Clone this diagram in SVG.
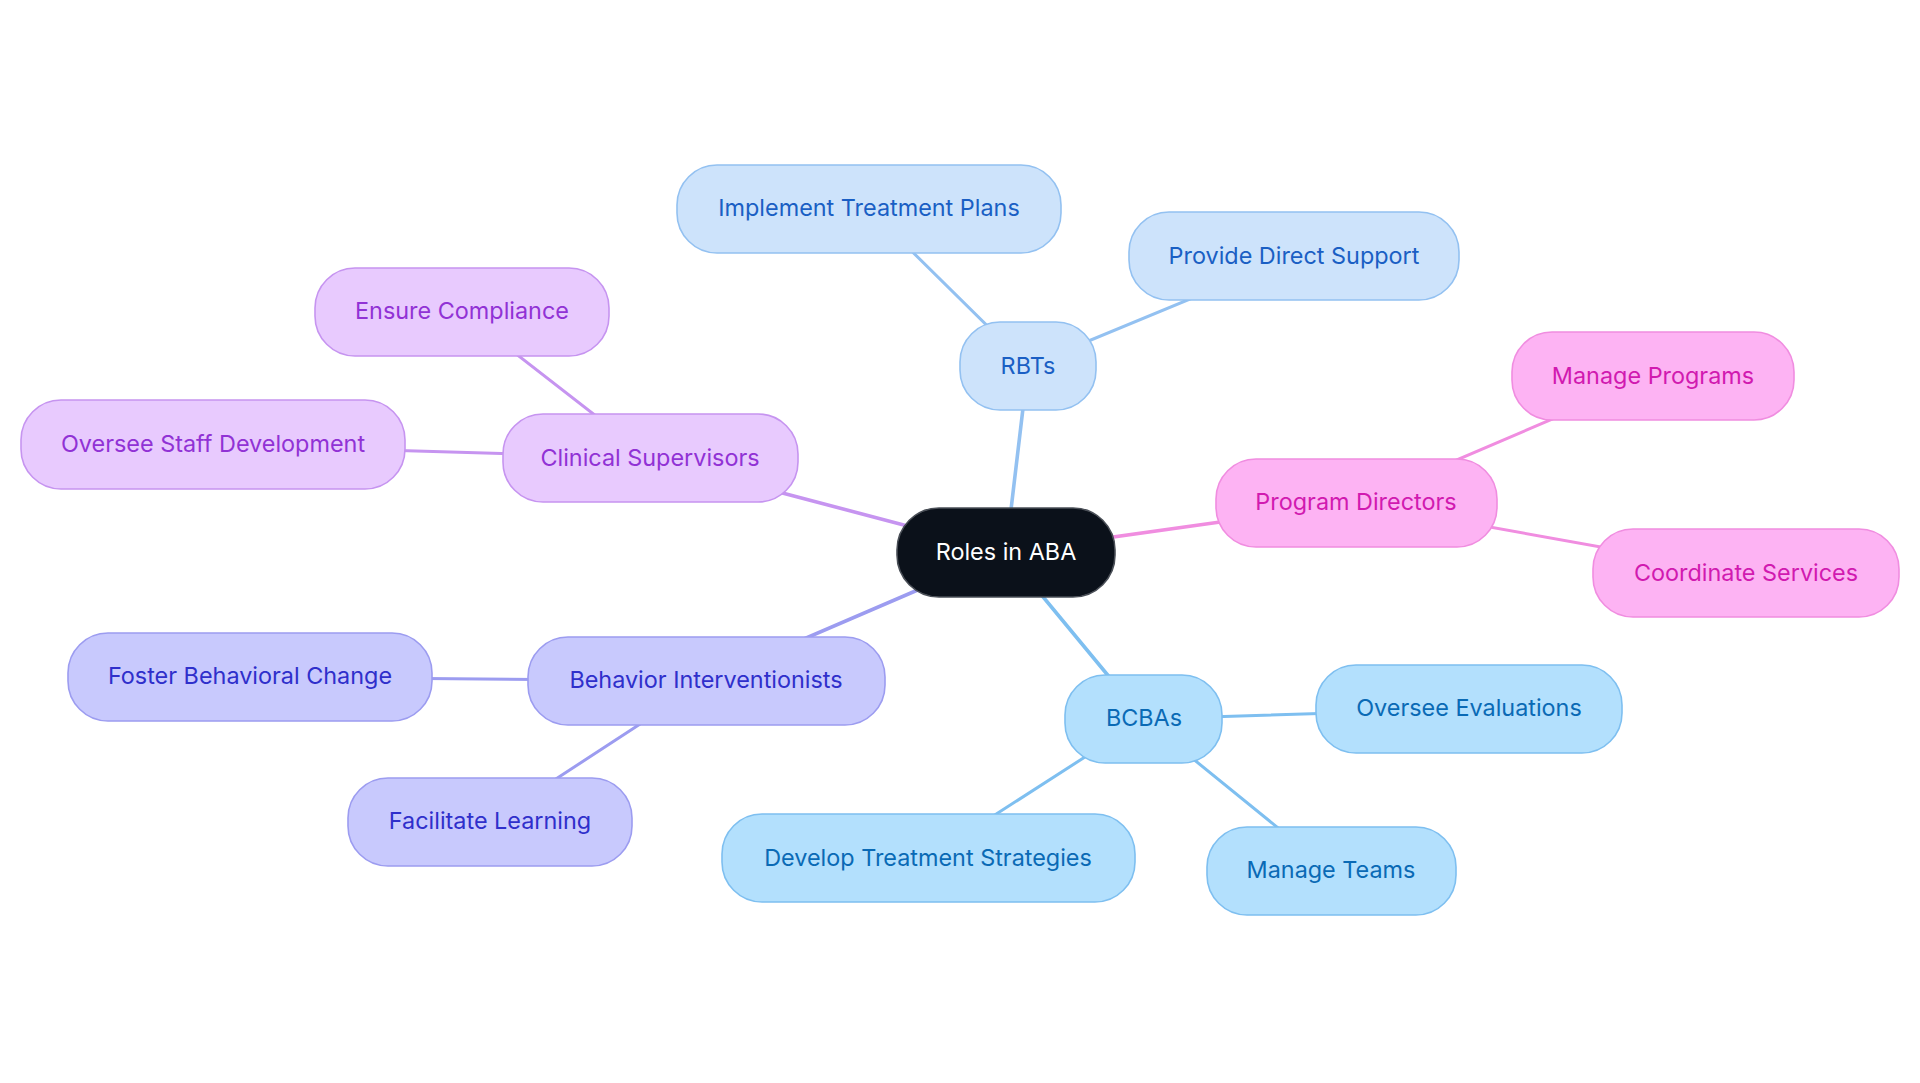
<svg xmlns="http://www.w3.org/2000/svg" width="1920" height="1083" viewBox="0 0 1920 1083">
<style>
text{font-family:Inter,"Noto Sans",sans-serif;font-size:23.4px;text-anchor:middle;dominant-baseline:central}
.n rect{stroke-width:1.6}
.root rect{fill:#0b111a;stroke:#4a4f57}
.root text{fill:#ffffff}
.rbt rect{fill:#cde3fb;stroke:#93c1f1}
.rbt text{fill:#1a5fc4}
.bcba rect{fill:#b3e0fd;stroke:#7ebff0}
.bcba text{fill:#0a6ab5}
.cs rect{fill:#e8cafe;stroke:#c694f0}
.cs text{fill:#9132d5}
.pd rect{fill:#fdb3f3;stroke:#f08de0}
.pd text{fill:#d11ab0}
.bi rect{fill:#c8c9fd;stroke:#9c9cf0}
.bi text{fill:#2f2fcb}
.e{fill:none;stroke-linecap:round}
.d1{stroke-width:3.6}
.d2{stroke-width:3}
.erbt{stroke:#93c1f1}
.ebcba{stroke:#7ebff0}
.ecs{stroke:#c694f0}
.epd{stroke:#f08de0}
.ebi{stroke:#9c9cf0}
</style>
<rect width="1920" height="1083" fill="#ffffff"/>
<g id="connectors">
<line class="e d1 erbt" x1="1006" y1="552" x2="1028" y2="366"/>
<line class="e d2 erbt" x1="1028" y1="366" x2="869" y2="209"/>
<line class="e d2 erbt" x1="1028" y1="366" x2="1294" y2="256"/>
<line class="e d1 epd" x1="1006" y1="552" x2="1356" y2="503"/>
<line class="e d2 epd" x1="1356" y1="503" x2="1653" y2="376"/>
<line class="e d2 epd" x1="1356" y1="503" x2="1746" y2="573"/>
<line class="e d1 ebcba" x1="1006" y1="552" x2="1144" y2="719"/>
<line class="e d2 ebcba" x1="1144" y1="719" x2="1469" y2="709"/>
<line class="e d2 ebcba" x1="1144" y1="719" x2="1331" y2="871"/>
<line class="e d2 ebcba" x1="1144" y1="719" x2="928" y2="858"/>
<line class="e d1 ebi" x1="1006" y1="552" x2="706" y2="681"/>
<line class="e d2 ebi" x1="706" y1="681" x2="250" y2="677"/>
<line class="e d2 ebi" x1="706" y1="681" x2="490" y2="822"/>
<line class="e d1 ecs" x1="1006" y1="552" x2="650" y2="458"/>
<line class="e d2 ecs" x1="650" y1="458" x2="462" y2="312"/>
<line class="e d2 ecs" x1="650" y1="458" x2="213" y2="445"/>
</g>
<g id="node-root" class="n root"><rect x="897" y="508" width="218" height="89" rx="42"/><text x="1006" y="551">Roles in ABA</text></g>
<g id="node-rbts" class="n rbt"><rect x="960" y="322" width="136" height="88" rx="40"/><text x="1028" y="365">RBTs</text></g>
<g id="node-implement" class="n rbt"><rect x="677" y="165" width="384" height="88" rx="40"/><text x="869" y="207">Implement Treatment Plans</text></g>
<g id="node-provide" class="n rbt"><rect x="1129" y="212" width="330" height="88" rx="40"/><text x="1294" y="255">Provide Direct Support</text></g>
<g id="node-pd" class="n pd"><rect x="1216" y="459" width="281" height="88" rx="40"/><text x="1356" y="501">Program Directors</text></g>
<g id="node-manage-programs" class="n pd"><rect x="1512" y="332" width="282" height="88" rx="40"/><text x="1653" y="375">Manage Programs</text></g>
<g id="node-coordinate" class="n pd"><rect x="1593" y="529" width="306" height="88" rx="40"/><text x="1746" y="572">Coordinate Services</text></g>
<g id="node-bcbas" class="n bcba"><rect x="1065" y="675" width="157" height="88" rx="40"/><text x="1144" y="717">BCBAs</text></g>
<g id="node-oversee-eval" class="n bcba"><rect x="1316" y="665" width="306" height="88" rx="40"/><text x="1469" y="707">Oversee Evaluations</text></g>
<g id="node-manage-teams" class="n bcba"><rect x="1207" y="827" width="249" height="88" rx="40"/><text x="1331" y="869">Manage Teams</text></g>
<g id="node-develop" class="n bcba"><rect x="722" y="814" width="413" height="88" rx="40"/><text x="928" y="857">Develop Treatment Strategies</text></g>
<g id="node-bi" class="n bi"><rect x="528" y="637" width="357" height="88" rx="40"/><text x="706" y="679">Behavior Interventionists</text></g>
<g id="node-foster" class="n bi"><rect x="68" y="633" width="364" height="88" rx="40"/><text x="250" y="675">Foster Behavioral Change</text></g>
<g id="node-facilitate" class="n bi"><rect x="348" y="778" width="284" height="88" rx="40"/><text x="490" y="820">Facilitate Learning</text></g>
<g id="node-cs" class="n cs"><rect x="503" y="414" width="295" height="88" rx="40"/><text x="650" y="457">Clinical Supervisors</text></g>
<g id="node-ensure" class="n cs"><rect x="315" y="268" width="294" height="88" rx="40"/><text x="462" y="310">Ensure Compliance</text></g>
<g id="node-oversee-staff" class="n cs"><rect x="21" y="400" width="384" height="89" rx="40"/><text x="213" y="443">Oversee Staff Development</text></g>
</svg>
